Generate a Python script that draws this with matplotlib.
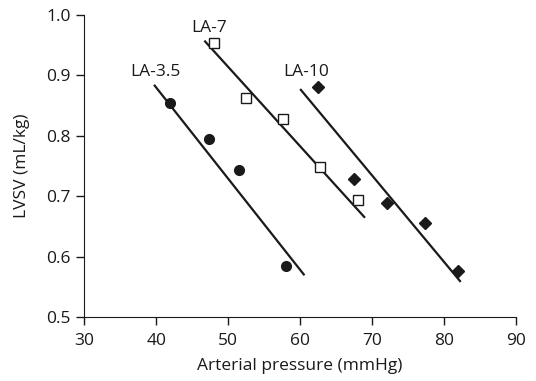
import numpy as np
import matplotlib.pyplot as plt

plt.rcParams['font.family'] = ['Open Sans', 'DejaVu Sans']

# LA-3.5 (filled circles)
p35 = [41.9, 47.4, 51.5, 58.0]
v35 = [0.854, 0.794, 0.743, 0.585]
fit35_x = [39.8, 60.5]
fit35_y = [0.883, 0.571]

# LA-7 (open squares)
p7 = [48.0, 52.5, 57.6, 62.8, 68.0]
v7 = [0.953, 0.863, 0.828, 0.748, 0.694]
fit7_x = [46.8, 68.9]
fit7_y = [0.956, 0.666]

# LA-10 (filled diamonds)
p10 = [62.5, 67.5, 72.1, 77.3, 81.9]
v10 = [0.881, 0.729, 0.689, 0.656, 0.577]
fit10_x = [60.1, 82.2]
fit10_y = [0.876, 0.560]

labels = ['LA-3.5', 'LA-7', 'LA-10']
label_pos = [(39.9, 0.906), (47.4, 0.978), (60.8, 0.906)]

fig = plt.figure(figsize=(5.36, 3.81), dpi=100)
ax = fig.add_axes([0.157, 0.167, 0.806, 0.794])

ax.plot(fit35_x, fit35_y, color='#1a1a1a', lw=1.6)
ax.plot(fit7_x, fit7_y, color='#1a1a1a', lw=1.6)
ax.plot(fit10_x, fit10_y, color='#1a1a1a', lw=1.6)

ax.plot(p35, v35, 'o', color='#1a1a1a', ms=7, ls='none')
ax.plot(p7, v7, 's', mfc='white', mec='#1a1a1a', mew=1.0, ms=7, ls='none')
ax.plot(p10, v10, 'D', color='#1a1a1a', ms=6.5, ls='none')

for lab, (x, y) in zip(labels, label_pos):
    ax.text(x, y, lab, ha='center', va='center', fontsize=12.5, color='#1a1a1a')

ax.set_xlim(30, 90)
ax.set_ylim(0.5, 1.0)
ax.set_xticks([30, 40, 50, 60, 70, 80, 90])
ax.set_yticks([0.5, 0.6, 0.7, 0.8, 0.9, 1.0])
ax.set_yticklabels(['0.5', '0.6', '0.7', '0.8', '0.9', '1.0'])
ax.tick_params(labelsize=12.5, length=5.5, width=1, colors='#1a1a1a')
ax.tick_params(axis='x', pad=6)
ax.tick_params(axis='y', pad=4)
for s in ['top', 'right']:
    ax.spines[s].set_visible(False)
for s in ['left', 'bottom']:
    ax.spines[s].set_color('#1a1a1a')
ax.set_xlabel('Arterial pressure (mmHg)', fontsize=12.5, color='#1a1a1a', labelpad=6)
ax.set_ylabel('LVSV (mL/kg)', fontsize=12.5, color='#1a1a1a', labelpad=12)

plt.savefig('out.png', dpi=100)
